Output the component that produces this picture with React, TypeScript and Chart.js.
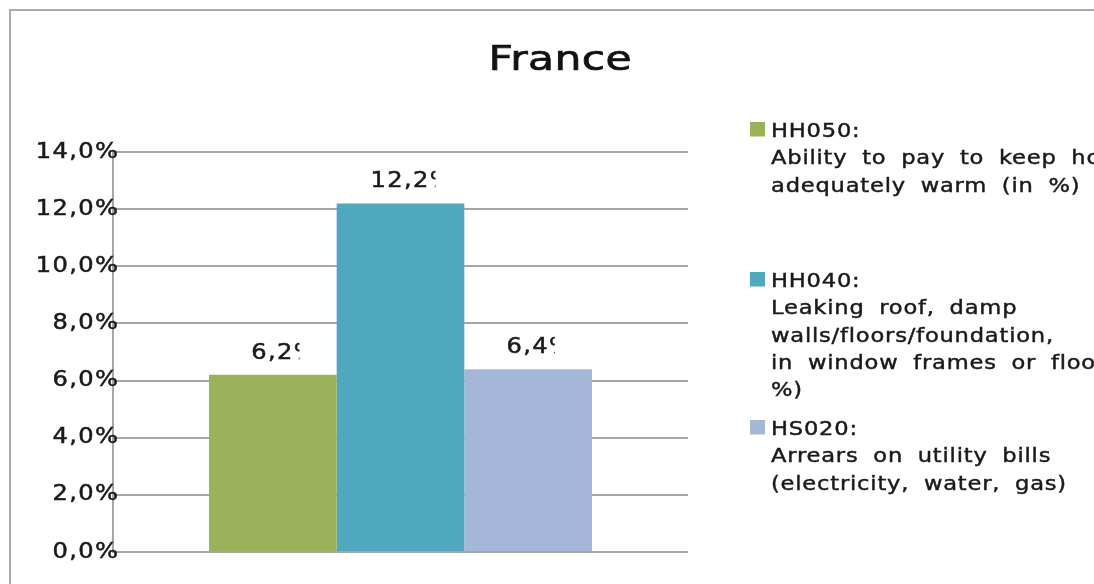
import React, { useEffect, useRef } from "react";
import { Chart, registerables } from "chart.js";

Chart.register(...registerables);

const titleText = "France";
const categories = ["France"];
const seriesCodes = ["HH050:", "HH040:", "HS020:"];
const seriesDescriptions = [
  ["Ability to pay to keep home", "adequately warm (in %)"],
  ["Leaking roof, damp", "walls/floors/foundation,", "in window frames or floor", "%)"],
  ["Arrears on utility bills", "(electricity, water, gas)"],
];
const seriesValues = [6.2, 12.2, 6.4];
const seriesColors = ["#9BB15A", "#4FA8BE", "#A5B7D8"];
const yMin = 0;
const yMax = 14;
const yStep = 2;

const FONT = '"DejaVu Sans"';

type TextOpts = {
  size: number;
  sx: number;
  ls?: number;
  ws?: number;
  align?: "left" | "center" | "right";
  color?: string;
  stroke?: number;
};

function measure(ctx: CanvasRenderingContext2D, text: string, o: TextOpts) {
  ctx.save();
  ctx.font = `${o.size}px ${FONT}`;
  (ctx as any).letterSpacing = `${o.ls || 0}px`;
  (ctx as any).wordSpacing = `${o.ws || 0}px`;
  const w = ctx.measureText(text).width * o.sx - (o.ls || 0) * o.sx;
  ctx.restore();
  return w;
}

function drawText(ctx: CanvasRenderingContext2D, text: string, x: number, y: number, o: TextOpts) {
  const w = measure(ctx, text, o);
  let left = x;
  if (o.align === "center") left = x - w / 2;
  else if (o.align === "right") left = x - w;
  ctx.save();
  ctx.font = `${o.size}px ${FONT}`;
  (ctx as any).letterSpacing = `${o.ls || 0}px`;
  (ctx as any).wordSpacing = `${o.ws || 0}px`;
  ctx.fillStyle = o.color || "#1a1a1a";
  ctx.strokeStyle = o.color || "#1a1a1a";
  ctx.textAlign = "left";
  ctx.textBaseline = "alphabetic";
  ctx.translate(left, y);
  ctx.scale(o.sx, 1);
  ctx.fillText(text, 0, 0);
  if (o.stroke) {
    ctx.lineWidth = o.stroke;
    ctx.strokeText(text, 0, 0);
  }
  ctx.restore();
  return w;
}

const fmt = (v: number) => v.toFixed(1).replace(".", ",");

const numOpts: TextOpts = { size: 21, sx: 1.15, ls: 1.2, color: "#1a1a1a", stroke: 0.5 };
const legendOpts: TextOpts = { size: 20, sx: 1.13, ls: 0.7, ws: 6, color: "#1a1a1a", stroke: 0.45 };
const legendTop = [137, 287, 435];
const legendLine = 27.3;

const decorPlugin = {
  id: "decor",
  beforeDraw(chart: any) {
    const ctx: CanvasRenderingContext2D = chart.ctx;
    ctx.save();
    ctx.fillStyle = "#ffffff";
    ctx.fillRect(0, 0, chart.width, chart.height);
    ctx.strokeStyle = "#ababab";
    ctx.lineWidth = 2;
    ctx.beginPath();
    ctx.moveTo(10, chart.height + 5);
    ctx.lineTo(10, 10);
    ctx.lineTo(chart.width + 5, 10);
    ctx.stroke();
    ctx.restore();
  },
  afterDraw(chart: any) {
    const ctx: CanvasRenderingContext2D = chart.ctx;
    const area = chart.chartArea;
    // title
    drawText(ctx, titleText, 560, 69.5, { size: 34, sx: 1.25, ls: 0.3, align: "center", color: "#111", stroke: 0.7 });
    // y tick labels
    const yScale = chart.scales.y;
    yScale.ticks.forEach((t: any) => {
      const py = yScale.getPixelForValue(t.value);
      drawText(ctx, fmt(t.value) + "%", area.left + 5, py + 5.5, { ...numOpts, align: "right" });
    });
    // data labels (clipped like the original)
    chart.data.datasets.forEach((ds: any, i: number) => {
      const meta = chart.getDatasetMeta(i);
      meta.data.forEach((bar: any, j: number) => {
        const v = ds.data[j];
        const num = fmt(v);
        const wNum = measure(ctx, num, numOpts);
        const left = bar.x - wNum / 2 - 1;
        ctx.save();
        ctx.beginPath();
        ctx.rect(left - 4, bar.y - 50, wNum + 11, 50);
        ctx.clip();
        drawText(ctx, num + "%", left, bar.y - 16, { ...numOpts, align: "left" });
        ctx.restore();
      });
    });
    // legend
    chart.data.datasets.forEach((ds: any, i: number) => {
      const y0 = legendTop[i];
      ctx.save();
      ctx.fillStyle = ds.backgroundColor;
      ctx.fillRect(750, y0 - 15, 15, 14.5);
      ctx.restore();
      drawText(ctx, ds.label, 771, y0, legendOpts);
      seriesDescriptions[i].forEach((line, k) => {
        drawText(ctx, line, 771, y0 + legendLine * (k + 1), legendOpts);
      });
    });
  },
};

export default function App() {
  const ref = useRef<HTMLCanvasElement>(null);
  useEffect(() => {
    if (!ref.current) return;
    const chart = new Chart(ref.current, {
      type: "bar",
      data: {
        labels: categories,
        datasets: seriesCodes.map((code, i) => ({
          label: code,
          data: [seriesValues[i]],
          backgroundColor: seriesColors[i],
          borderWidth: 0,
        })),
      },
      options: {
        responsive: false,
        animation: false,
        devicePixelRatio: 1,
        layout: { padding: { left: 113, right: 406, top: 152, bottom: 32 } },
        datasets: { bar: { categoryPercentage: 0.666, barPercentage: 1 } },
        plugins: {
          legend: { display: false },
          title: { display: false },
          tooltip: { enabled: false },
        },
        scales: {
          x: {
            ticks: { display: false },
            grid: { display: false },
            border: { display: false },
            afterFit: (s: any) => {
              s.height = 0;
            },
          },
          y: {
            min: yMin,
            max: yMax,
            ticks: { stepSize: yStep, display: false },
            grid: { color: "#a6a6a6", lineWidth: 2, drawTicks: false },
            border: { display: true, color: "#a6a6a6", width: 2 },
            afterFit: (s: any) => {
              s.width = 0;
            },
          },
        },
      } as any,
      plugins: [decorPlugin],
    });
    return () => chart.destroy();
  }, []);
  return (
    <div
      style={{
        position: "fixed",
        left: 0,
        top: 0,
        width: 1094,
        height: 584,
        overflow: "hidden",
        background: "#fff",
      }}
    >
      <canvas ref={ref} width={1094} height={584} style={{ display: "block", width: 1094, height: 584 }} />
    </div>
  );
}
